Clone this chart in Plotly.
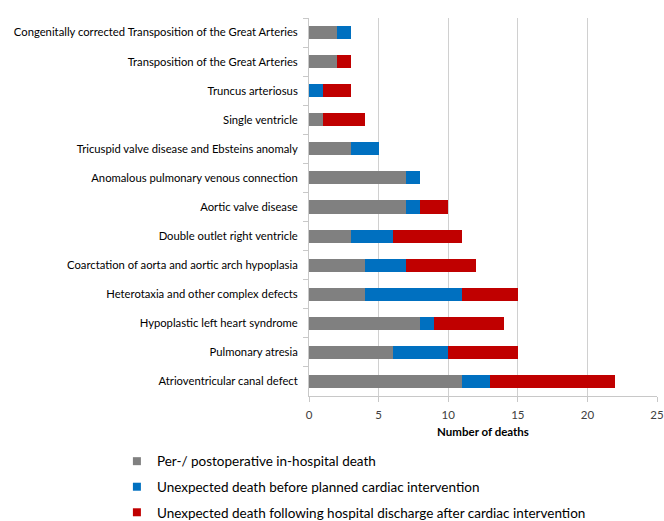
import plotly.graph_objects as go

categories = [
    "Congenitally corrected Transposition of the Great Arteries",
    "Transposition of the Great Arteries",
    "Truncus arteriosus",
    "Single ventricle",
    "Tricuspid valve disease and Ebsteins anomaly",
    "Anomalous pulmonary venous connection",
    "Aortic valve disease",
    "Double outlet right ventricle",
    "Coarctation of aorta and aortic arch hypoplasia",
    "Heterotaxia and other complex defects",
    "Hypoplastic left heart syndrome",
    "Pulmonary atresia",
    "Atrioventricular canal defect",
]
periop = [2, 2, 0, 1, 3, 7, 7, 3, 4, 4, 8, 6, 11]
before_intervention = [1, 0, 1, 0, 2, 1, 1, 3, 3, 7, 1, 4, 2]
after_discharge = [0, 1, 2, 3, 0, 0, 2, 5, 5, 4, 5, 5, 9]

series_names = [
    "Per-/ postoperative in-hospital death",
    "Unexpected death before planned cardiac intervention",
    "Unexpected death following hospital discharge after cardiac intervention",
]
colors = ["#808080", "#0070C0", "#C00000"]
x_ticks = [0, 5, 10, 15, 20, 25]

FONT = "Lato"
AX = "#C8C8C8"
fig = go.Figure()
for i, (name, vals, col) in enumerate(zip(series_names, [periop, before_intervention, after_discharge], colors)):
    fig.add_trace(go.Bar(
        y=categories, x=vals, name=name, orientation="h",
        marker=dict(color=col, line=dict(width=0)),
        showlegend=False,
    ))
    # legend entry with a small square swatch
    fig.add_trace(go.Scatter(
        x=[None], y=[None], mode="markers", name=name,
        marker=dict(symbol="square", size=8, color=col),
        legendgroup=f"g{i}", showlegend=True,
    ))

fig.update_layout(
    barmode="stack",
    bargap=0.55,
    width=664, height=521,
    margin=dict(l=309, r=7, t=18, b=125, autoexpand=False),
    plot_bgcolor="white", paper_bgcolor="white",
    font=dict(family=FONT, size=11, color="#404040"),
    xaxis=dict(
        range=[0, 25], tickvals=x_ticks, showgrid=True, gridcolor="#D0D0D0", gridwidth=1,
        zeroline=False, showline=True, linecolor=AX, linewidth=1,
        ticks="outside", ticklen=5, tickcolor=AX, automargin=False,
        tickfont=dict(size=11.5, color="#404040"), ticklabelstandoff=3,
        title=dict(text="<b>Number of deaths</b>", font=dict(size=11.5, color="#000000"), standoff=8),
    ),
    yaxis=dict(
        autorange="reversed", showline=True, linecolor=AX, linewidth=1,
        ticks="outside", ticklen=5, tickcolor=AX, tickson="boundaries",
        showgrid=False, tickfont=dict(size=11.25, color="#000000"), automargin=False,
        ticklabelstandoff=8,
    ),
    legend=dict(
        orientation="v", x=-0.552, xanchor="left", y=-0.132, yanchor="top",
        traceorder="grouped", tracegroupgap=5,
        font=dict(size=13.5, color="#000000"), itemwidth=30,
    ),
)

fig.write_html("out.html")
